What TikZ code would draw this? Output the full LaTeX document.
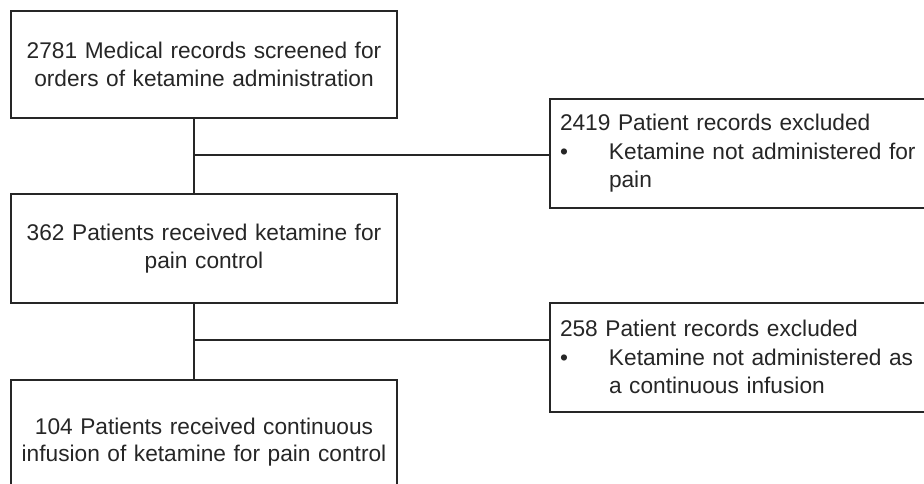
\documentclass[tikz,border=0pt]{standalone}
\usepackage{fontspec}
\setmainfont{Liberation Sans}
\usepackage{tikz}

\newcommand{\bulletline}[1]{\makebox[49pt][l]{\textbullet}#1}

\begin{document}
\begin{tikzpicture}[x=1pt,y=-1pt,
		flowbox/.style={draw=black!85,line width=2pt,text=black!85,inner sep=0pt,
			minimum width=386pt,text width=370pt,align=center,
			font=\fontsize{22.7pt}{27.5pt}\selectfont},
		exclbox/.style={draw=black!85,line width=2pt,text=black!85,inner xsep=10pt,inner ysep=0pt,
			text width=380pt,align=left,minimum height=109pt,
			font=\fontsize{22.7pt}{28.5pt}\selectfont},
		link/.style={draw=black!85,line width=1.7pt}]
		\useasboundingbox (0,0) rectangle (924,483);
		% main boxes
		\node[flowbox,minimum height=107pt] (screened) at (204,64.5) {2781 Medical records screened for\\orders of ketamine administration};
		\node[flowbox,minimum height=109pt] (received) at (204,248.5) {362 Patients received ketamine for\\pain control};
		\node[flowbox,minimum height=124pt] (infused) at (204,442) {104 Patients received continuous\\infusion of ketamine for pain control};
		% exclusion boxes
		\node[exclbox,anchor=west] (excl1) at (549,153.5) {2419 Patient records excluded\\\bulletline{Ketamine not administered for}\\\hspace*{49pt}pain};
		\node[exclbox,anchor=west] (excl2) at (549,357) {258 Patient records excluded\\\bulletline{Ketamine not administered as}\\\hspace*{49pt}a continuous infusion};
		% connectors
		\coordinate (split1) at (194,155);
		\coordinate (split2) at (194,340);
		\draw[link] (screened.south -| split1) -- (received.north -| split1);
		\draw[link] (split1) -- (split1 -| excl1.west);
		\draw[link] (received.south -| split2) -- (infused.north -| split2);
		\draw[link] (split2) -- (split2 -| excl2.west);
	\end{tikzpicture}
\end{document}
